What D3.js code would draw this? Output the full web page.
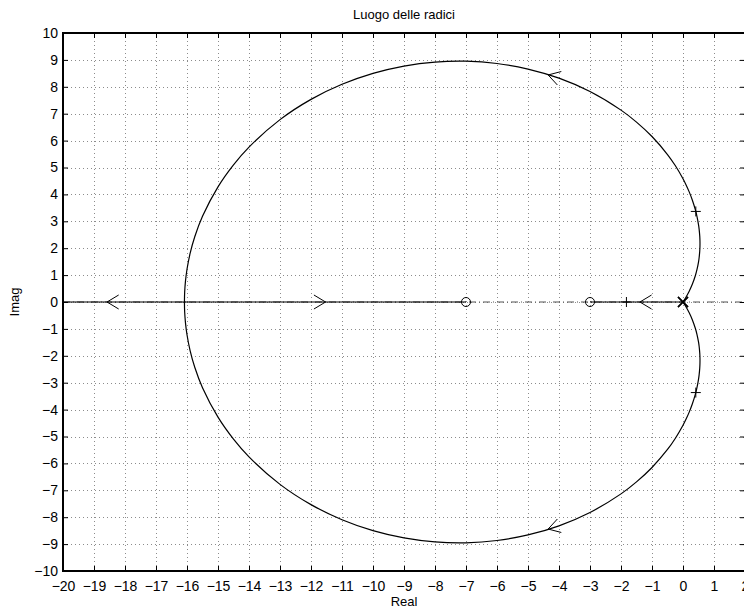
<!DOCTYPE html>
<html>
<head>
<meta charset="utf-8">
<script src="https://cdn.jsdelivr.net/npm/d3@7"></script>
<style>
  html, body { margin: 0; padding: 0; background: #fff; }
  svg { display: block; font-family: "Liberation Sans", Arial, Helvetica, sans-serif; }
</style>
</head>
<body>
<svg id="chart" width="744" height="610"></svg>
<script>
// Root locus of L(s) = (s+3)(s+7) / s^3

const xTicks = [-20, -19, -18, -17, -16, -15, -14, -13, -12, -11, -10, -9, -8, -7, -6, -5, -4, -3, -2, -1, 0, 1, 2];
const yTicks = [-10, -9, -8, -7, -6, -5, -4, -3, -2, -1, 0, 1, 2, 3, 4, 5, 6, 7, 8, 9, 10];

// open-loop poles (triple pole at the origin) and zeros
const poles = [[0, 0], [0, 0], [0, 0]];
const zeros = [[-7, 0], [-3, 0]];

// complex branch leaving the origin upward, ending at the break-in point
const upperBranch = [
  [0, 0], [0.05, 0.089], [0.1, 0.186], [0.2, 0.4], [0.3, 0.657], [0.4, 0.986],
  [0.45, 1.2], [0.5, 1.486], [0.52, 1.647], [0.54, 1.891], [0.546, 2.035], [0.548, 2.173],
  [0.546, 2.311], [0.54, 2.458], [0.52, 2.711], [0.5, 2.879], [0.45, 3.187], [0.4, 3.422],
  [0.3, 3.793], [0.2, 4.094], [0.1, 4.353], [0, 4.583], [-0.25, 5.073], [-0.5, 5.482],
  [-1, 6.151], [-1.5, 6.688], [-2, 7.133], [-3, 7.825], [-4, 8.321], [-5, 8.66],
  [-6, 8.867], [-7, 8.951], [-8, 8.919], [-9, 8.77], [-10, 8.499], [-11, 8.093],
  [-12, 7.533], [-13, 6.779], [-14, 5.758], [-14.5, 5.098], [-15, 4.281], [-15.5, 3.187],
  [-15.75, 2.426], [-15.9, 1.805], [-16, 1.218], [-16.05, 0.768], [-16.075, 0.374], [-16.083, 0]
];

// its conjugate branch leaving the origin downward
const lowerBranch = [
  [0, 0], [0.05, -0.089], [0.1, -0.186], [0.2, -0.4], [0.3, -0.657], [0.4, -0.986],
  [0.45, -1.2], [0.5, -1.486], [0.52, -1.647], [0.54, -1.891], [0.546, -2.035], [0.548, -2.173],
  [0.546, -2.311], [0.54, -2.458], [0.52, -2.711], [0.5, -2.879], [0.45, -3.187], [0.4, -3.422],
  [0.3, -3.793], [0.2, -4.094], [0.1, -4.353], [0, -4.583], [-0.25, -5.073], [-0.5, -5.482],
  [-1, -6.151], [-1.5, -6.688], [-2, -7.133], [-3, -7.825], [-4, -8.321], [-5, -8.66],
  [-6, -8.867], [-7, -8.951], [-8, -8.919], [-9, -8.77], [-10, -8.499], [-11, -8.093],
  [-12, -7.533], [-13, -6.779], [-14, -5.758], [-14.5, -5.098], [-15, -4.281], [-15.5, -3.187],
  [-15.75, -2.426], [-15.9, -1.805], [-16, -1.218], [-16.05, -0.768], [-16.075, -0.374], [-16.083, 0]
];

// branches lying on the real axis
const realBranches = [
  [[0, 0], [-3, 0]],
  [[-16.083, 0], [-7, 0]],
  [[-16.083, 0], [-20, 0]]
];

// closed-loop poles for unit gain
const unitGainPoles = [[0.413, 3.367], [0.413, -3.367], [-1.825, 0]];

// direction arrows: tip position and a point further along the branch
const arrowTips = [[-4.35, 8.44], [-4.35, -8.44], [-18.58, 0], [-11.53, 0], [-1.39, 0]];
const arrowHeadings = [[-5, 8.66], [-5, -8.66], [-20, 0], [-7, 0], [-3, 0]];

const svg = d3.select("#chart");
const x = d3.scaleLinear().domain([-20, 2]).range([63, 745]);
const y = d3.scaleLinear().domain([-10, 10]).range([571, 33]);
const [x0, x1] = x.range();
const [y0, y1] = y.range();

// dotted grid
const grid = svg.append("g")
  .attr("stroke", "#8c8c8c")
  .attr("stroke-width", 1)
  .attr("stroke-dasharray", "1,3");
grid.selectAll("line.v").data(xTicks.slice(1, -1)).join("line")
  .attr("class", "v")
  .attr("x1", d => Math.round(x(d)) + 0.5).attr("x2", d => Math.round(x(d)) + 0.5)
  .attr("y1", y1).attr("y2", y0);
grid.selectAll("line.h").data(yTicks.slice(1, -1)).join("line")
  .attr("class", "h")
  .attr("y1", d => Math.round(y(d)) + 0.5).attr("y2", d => Math.round(y(d)) + 0.5)
  .attr("x1", x0).attr("x2", x1);

// dash-dot real axis
svg.append("line")
  .attr("x1", x0).attr("x2", x1)
  .attr("y1", y(0)).attr("y2", y(0))
  .attr("stroke", "#555")
  .attr("stroke-width", 1.2)
  .attr("stroke-dasharray", "7,3,1,3");

// locus branches
const line = d3.line().x(d => x(d[0])).y(d => y(d[1])).curve(d3.curveCatmullRom.alpha(0.5));
const locus = svg.append("g").attr("fill", "none").attr("stroke", "#000").attr("stroke-width", 1.2);
[upperBranch, lowerBranch].forEach(b => locus.append("path").attr("d", line(b)));
realBranches.forEach(b => locus.append("path").attr("d", d3.line().x(d => x(d[0])).y(d => y(d[1])).curve(d3.curveLinear)(b)));

// arrow chevrons
const armLen = 13.6, armAng = 31 * Math.PI / 180;
arrowTips.forEach((t, i) => {
  const tx = x(t[0]), ty = y(t[1]);
  const hx = x(arrowHeadings[i][0]), hy = y(arrowHeadings[i][1]);
  const back = Math.atan2(ty - hy, tx - hx);
  const a1 = back + armAng, a2 = back - armAng;
  locus.append("path")
    .attr("stroke-width", 1)
    .attr("d", `M${tx + armLen * Math.cos(a1)},${ty + armLen * Math.sin(a1)}L${tx},${ty}L${tx + armLen * Math.cos(a2)},${ty + armLen * Math.sin(a2)}`);
});

// zeros
svg.append("g").selectAll("circle").data(zeros).join("circle")
  .attr("cx", d => x(d[0])).attr("cy", d => y(d[1])).attr("r", 4.5)
  .attr("fill", "none").attr("stroke", "#000").attr("stroke-width", 1);

// poles
svg.append("g").selectAll("path").data(poles).join("path")
  .attr("d", d => {
    const cx = x(d[0]), cy = y(d[1]), s = 5;
    return `M${cx - s},${cy - s}L${cx + s},${cy + s}M${cx - s},${cy + s}L${cx + s},${cy - s}`;
  })
  .attr("stroke", "#000").attr("stroke-width", 1.2);

// unit-gain closed-loop poles
svg.append("g").selectAll("path").data(unitGainPoles).join("path")
  .attr("d", d => {
    const cx = x(d[0]), cy = y(d[1]), s = 5;
    return `M${cx - s},${cy}L${cx + s},${cy}M${cx},${cy - s}L${cx},${cy + s}`;
  })
  .attr("stroke", "#000").attr("stroke-width", 1);

// axes with inward ticks
const fmt = d3.format("d");
const styleAxis = g => {
  g.select(".domain").remove();
  g.selectAll(".tick line").attr("stroke", "#000").attr("stroke-width", 1);
  g.selectAll("text").attr("fill", "#000").attr("font-size", 14);
  g.attr("font-family", null);
};
svg.append("g").attr("transform", `translate(0,${y0})`)
  .call(d3.axisBottom(x).tickValues(xTicks).tickFormat(fmt).tickSizeInner(-5).tickSizeOuter(0).tickPadding(10))
  .call(styleAxis);
svg.append("g").attr("transform", `translate(${x0},0)`)
  .call(d3.axisLeft(y).tickValues(yTicks).tickFormat(fmt).tickSizeInner(-5).tickSizeOuter(0).tickPadding(5))
  .call(styleAxis);
svg.append("g").attr("transform", `translate(0,${y1})`)
  .call(d3.axisTop(x).tickValues(xTicks).tickFormat("").tickSizeInner(-5).tickSizeOuter(0))
  .call(styleAxis);
svg.append("g").attr("transform", `translate(${x1},0)`)
  .call(d3.axisRight(y).tickValues(yTicks).tickFormat("").tickSizeInner(-5).tickSizeOuter(0))
  .call(styleAxis);

// frame
svg.append("rect")
  .attr("x", x0).attr("y", y1).attr("width", x1 - x0).attr("height", y0 - y1)
  .attr("fill", "none").attr("stroke", "#000").attr("stroke-width", 2);

// titles
svg.append("text").attr("x", (x0 + x1) / 2).attr("y", 19)
  .attr("text-anchor", "middle").attr("font-size", 13).text("Luogo delle radici");
svg.append("text").attr("x", (x0 + x1) / 2).attr("y", 606)
  .attr("text-anchor", "middle").attr("font-size", 13).text("Real");
svg.append("text").attr("transform", `translate(19,${(y0 + y1) / 2}) rotate(-90)`)
  .attr("text-anchor", "middle").attr("font-size", 13).text("Imag");
</script>
</body>
</html>
